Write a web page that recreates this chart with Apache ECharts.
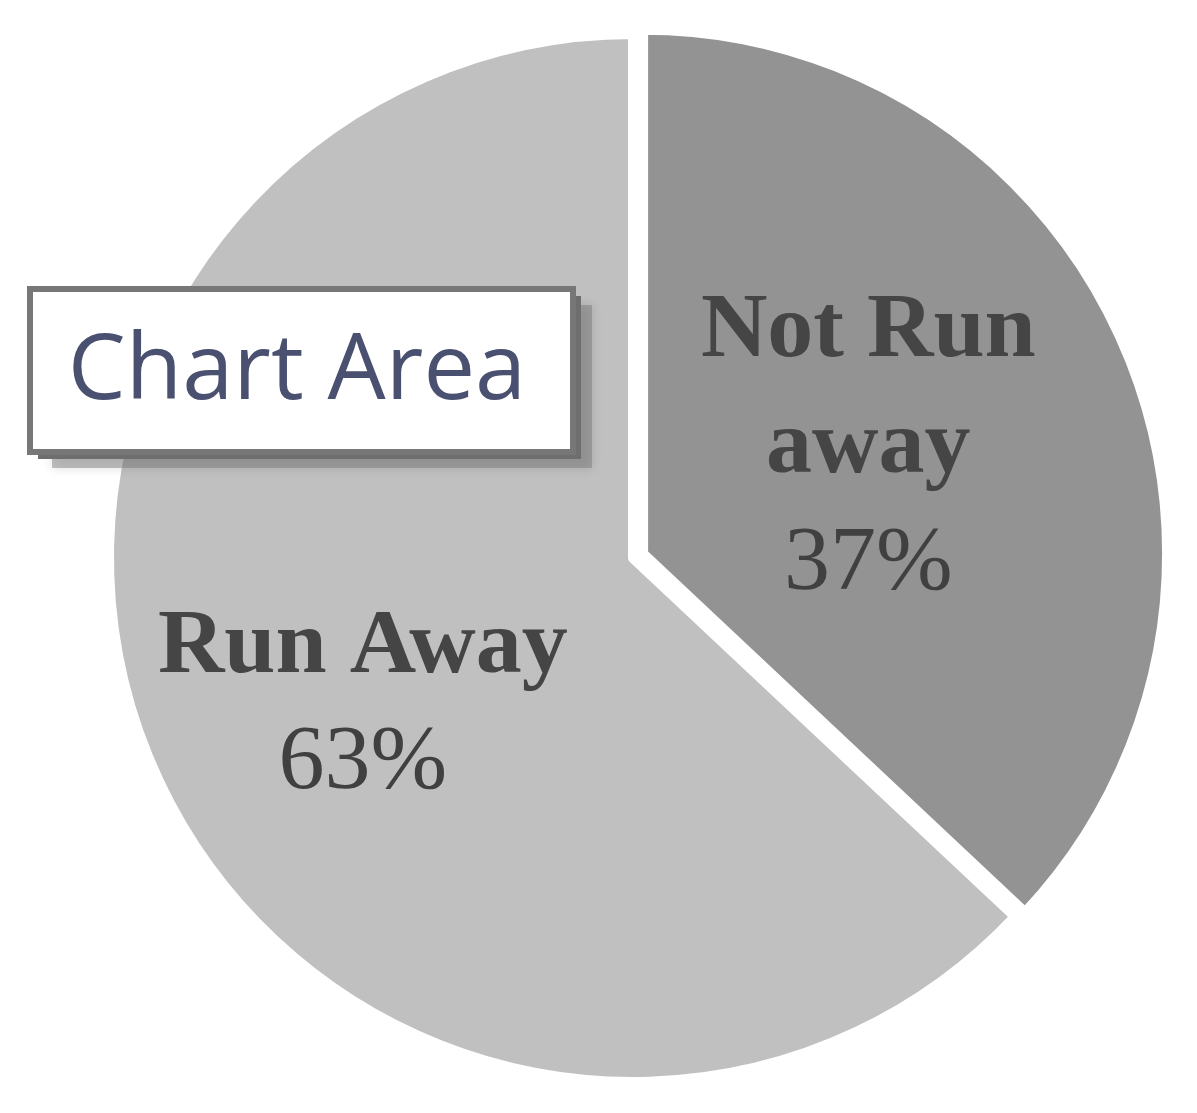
<!DOCTYPE html>
<html>
<head>
<meta charset="utf-8">
<script src="https://cdn.jsdelivr.net/npm/echarts@6/dist/echarts.min.js"></script>
<style>
    html, body {margin: 0; padding: 0; background: #fff;}
    #main {width: 1197px; height: 1113px;}
</style>
</head>
<body>
<div id="main"></div>
<script>
const categories = ['Not Run away', 'Run Away'];
const values = [37, 63];
const colors = ['#939393', '#c0c0c0'];
const labelLines = [['Not Run', 'away'], ['Run Away']];
const tooltipText = 'Chart Area';

const myChart = echarts.init(document.getElementById('main'));

const data = categories.map((name, i) => ({
    name: name,
    value: values[i],
    selected: i === 0,
    itemStyle: {color: colors[i]},
    label: {
        // nudge the label block to where it sits in the picture
        padding: i === 0 ? [0, 36, 0, 0] : [86, 54, 0, 0]
    }
}));

myChart.setOption({
    animation: false,
    backgroundColor: '#fff',
    series: [
        {
            type: 'pie',
            center: [633, 558],
            radius: [0, 524],
            startAngle: 90,
            clockwise: true,
            selectedMode: 'single',
            selectedOffset: 11,
            avoidLabelOverlap: false,
            itemStyle: {
                borderColor: '#fff',
                borderWidth: 10
            },
            emphasis: {disabled: true},
            label: {
                show: true,
                position: 'inside',
                color: '#404040',
                formatter: params => {
                    const idx = categories.indexOf(params.name);
                    const lines = labelLines[idx].map(t => `{n|${t}}`);
                    lines.push(`{p|${Math.round(params.percent)}%}`);
                    return lines.join('\n');
                },
                rich: {
                    n: {
                        fontFamily: 'Liberation Serif',
                        fontWeight: 'bold',
                        fontSize: 92,
                        lineHeight: 116,
                        color: '#454545'
                    },
                    p: {
                        fontFamily: 'Liberation Serif',
                        fontSize: 92,
                        lineHeight: 116,
                        color: '#404040'
                    }
                }
            },
            labelLine: {show: false},
            data: data
        }
    ],
    graphic: [
        {
            // outer light part of the tooltip shadow
            type: 'rect',
            shape: {x: 52, y: 305, width: 540, height: 163},
            style: {
                fill: 'rgba(120,120,120,0.45)',
                shadowColor: 'rgba(0,0,0,0.3)',
                shadowBlur: 10
            },
            z: 9
        },
        {
            type: 'rect',
            shape: {x: 38, y: 296, width: 543, height: 163},
            style: {
                fill: '#6e6e6e'
            },
            z: 10
        },
        {
            type: 'rect',
            shape: {x: 30, y: 289, width: 543, height: 163},
            style: {
                fill: '#fff',
                stroke: '#777',
                lineWidth: 6
            },
            z: 11
        },
        {
            type: 'text',
            x: 297,
            y: 373,
            style: {
                text: tooltipText,
                font: '92px "Open Sans"',
                fill: '#4a5070',
                align: 'center',
                verticalAlign: 'middle'
            },
            z: 12
        }
    ]
});
</script>
</body>
</html>
